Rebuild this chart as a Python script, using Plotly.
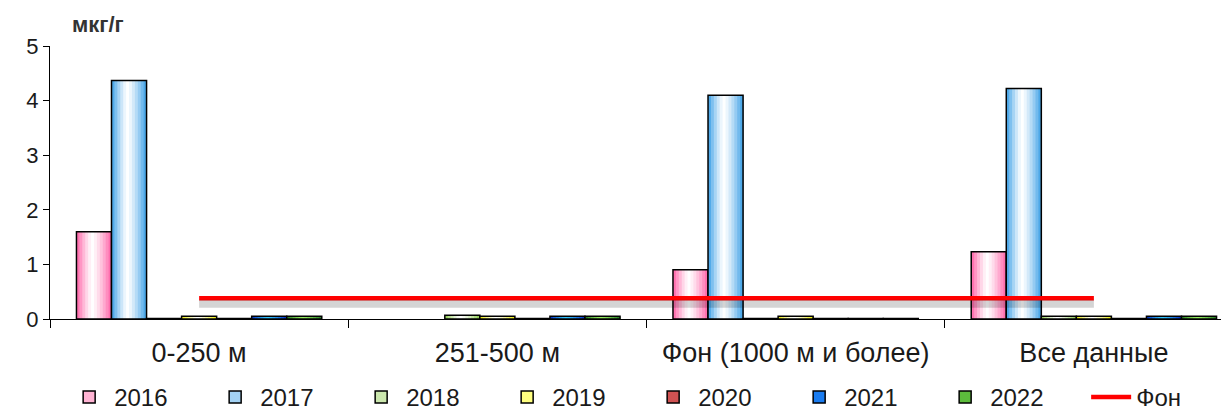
import plotly.graph_objects as go

# ---------------------------
#   data
# ---------------------------
categories = ["0-250 м", "251-500 м", "Фон (1000 м и более)", "Все данные"]
years = ["2016", "2017", "2018", "2019", "2020", "2021", "2022"]

v2016 = [1.60, None, 0.90, 1.23]
v2017 = [4.37, None, 4.10, 4.22]
v2018 = [0.01, 0.07, 0.01, 0.05]
v2019 = [0.05, 0.05, 0.05, 0.05]
v2020 = [0.01, 0.01, 0.01, 0.01]
v2021 = [0.05, 0.05, 0.01, 0.05]
v2022 = [0.05, 0.05, 0.01, 0.05]
fon = [0.38, 0.38, 0.38, 0.38]

values = [v2016, v2017, v2018, v2019, v2020, v2021, v2022]

# edge colour, centre colour, legend colour
year_colors = [
    ("#ff5fa5", "#ffffff", "#ffb3d3"),
    ("#3a9fe6", "#ffffff", "#a3d2f4"),
    ("#8ccc4c", "#ffffff", "#cbe7ad"),
    ("#f0f000", "#ffffff", "#ffff80"),
    ("#9a2020", "#ff8a8a", "#d05252"),
    ("#0028c8", "#30c8ff", "#1a7cf0"),
    ("#1e7a1e", "#98f060", "#5cbc3c"),
]

FONT = "Arial, Liberation Sans, sans-serif"
TXT = "#1a1a1a"
BAR_W = 0.1175          # width of one bar in category units
N_STRIPS = 12           # strips used to fake the gradient fill


def hex_rgb(h):
  h = h.lstrip("#")
  return tuple(int(h[i:i + 2], 16) for i in (0, 2, 4))


def mix(c1, c2, f):
  a, b = hex_rgb(c1), hex_rgb(c2)
  return "rgb(%d,%d,%d)" % tuple(round(a[k] + (b[k] - a[k]) * f) for k in range(3))


fig = go.Figure()

group_left = -BAR_W * len(years) / 2
for i, (yr, vals) in enumerate(zip(years, values)):
  edge, centre, leg = year_colors[i]
  left = group_left + i * BAR_W
  # gradient strips
  for j in range(N_STRIPS):
    t = (j + 0.5) / N_STRIPS
    c = 0.45
    f = 1 - (abs(t - c) / (c if t < c else 1 - c)) ** 1.3
    fig.add_trace(go.Bar(
        x=categories, y=vals,
        offset=left + j * BAR_W / N_STRIPS,
        width=BAR_W - j * BAR_W / N_STRIPS,
        marker=dict(color=mix(edge, centre, max(f, 0)), line=dict(width=0)),
        showlegend=False, hoverinfo="skip"))
  # outline
  fig.add_trace(go.Bar(
      x=categories, y=vals, offset=left, width=BAR_W,
      marker=dict(color="rgba(0,0,0,0)", line=dict(color="black", width=1.5)),
      name=yr, showlegend=False))
  # legend entry
  fig.add_trace(go.Bar(
      x=categories, y=[None] * len(categories), name=yr,
      marker=dict(color=leg, line=dict(color="black", width=1.5))))

# shadow of the background line (drawn on a slightly shifted axis)
fig.add_trace(go.Scatter(
    x=categories, y=fon, mode="lines", yaxis="y2",
    line=dict(color="rgba(0,0,0,0.17)", width=8),
    showlegend=False, hoverinfo="skip"))

fig.add_trace(go.Scatter(
    x=categories, y=fon, mode="lines", name="Фон",
    line=dict(color="#ff0000", width=4.5)))

# page body has an 8px margin, so the figure is 8px smaller than the window
fig.update_layout(
    barmode="overlay",
    width=1221, height=407,
    margin=dict(l=42, r=0, t=38, b=96, autoexpand=False),
    paper_bgcolor="#ffffff",
    plot_bgcolor="#ffffff",
    font=dict(family=FONT, color=TXT),
    legend=dict(
        orientation="h",
        x=0.012, xanchor="left",
        y=-0.205, yanchor="top",
        font=dict(size=24, family=FONT, color=TXT),
        entrywidth=91, entrywidthmode="pixels",
        itemwidth=40,
        traceorder="normal"),
    annotations=[dict(
        text="<b>мкг/г</b>", xref="paper", yref="paper",
        x=0.017, y=1.077, xanchor="left", yanchor="middle",
        showarrow=False, font=dict(size=22, family=FONT, color="#333333"))],
)

fig.update_xaxes(
    type="category", categoryorder="array", categoryarray=categories,
    range=[-0.5, 3.453],
    showline=True, linecolor="black", linewidth=1,
    ticks="outside", tickson="boundaries", ticklen=8, tickcolor="black",
    ticklabelstandoff=10,
    tickfont=dict(size=27, family=FONT, color=TXT),
    showgrid=False, zeroline=False)

fig.update_yaxes(
    range=[0, 5], dtick=1, tick0=0,
    showline=True, linecolor="black", linewidth=1,
    ticks="outside", ticklen=6, tickcolor="black",
    tickfont=dict(size=22, family=FONT, color=TXT),
    showgrid=False, zeroline=False)

fig.update_layout(yaxis2=dict(
    overlaying="y", range=[0.1, 5.1], visible=False))

fig.write_html("out.html")
